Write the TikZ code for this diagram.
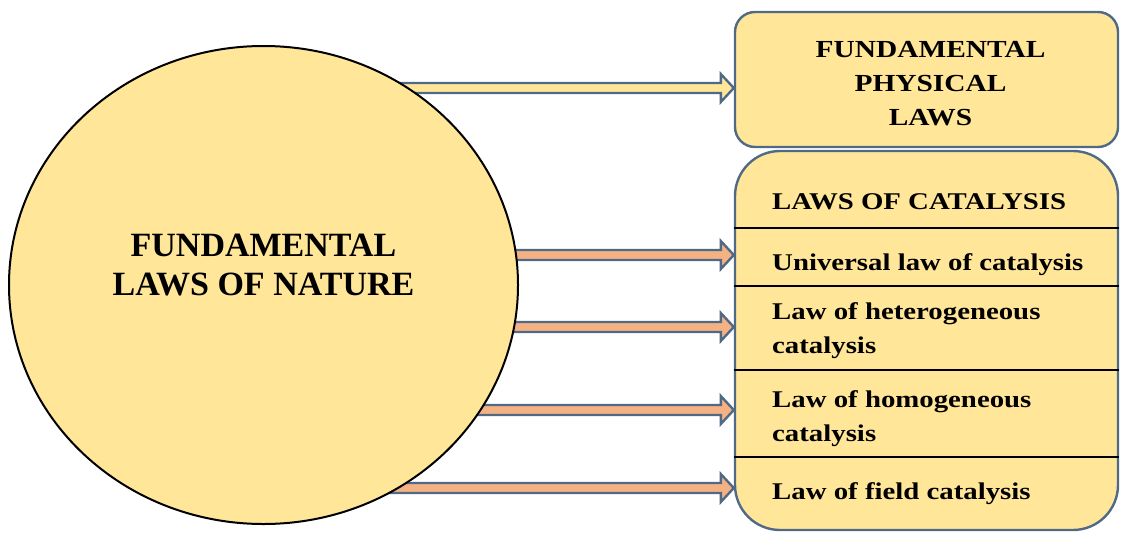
\documentclass[tikz,border=0pt]{standalone}
\usepackage{xcolor}
\usepackage{fontspec}
\setmainfont{Liberation Serif}
\newfontfamily\widefont[FakeStretch=1.2]{Liberation Serif}
\usetikzlibrary{shapes.geometric, calc, backgrounds}
\definecolor{goldfill}{RGB}{255,230,153}
\definecolor{steelline}{RGB}{80,106,134}
\definecolor{salmonfill}{RGB}{244,177,131}

% block arrow from #1 to the tip #2, filled with #3
\newcommand{\blockarrow}[3]{%
  \path[fill=#3, draw=steelline, line width=2.4pt, line join=miter]
    ($(#1)+(0,-5)$) -- ($(#2)+(-13,-5)$) -- ($(#2)+(-13,-14)$) -- (#2)
    -- ($(#2)+(-13,14)$) -- ($(#2)+(-13,5)$) -- ($(#1)+(0,5)$) -- cycle;}

\begin{document}
\begin{tikzpicture}[x=1pt, y=-1pt,
    lawbox/.style={draw=steelline, line width=2.4pt, fill=goldfill, rectangle},
    entry/.style={inner sep=0pt, align=left, font=\widefont\bfseries\fontsize{24}{34}\selectfont},
    divider/.style={draw=black, line width=2.2pt}]
    \useasboundingbox (0,0) rectangle (1121,533);

    % left: the big ellipse
    \node[draw=black, line width=2pt, fill=goldfill, ellipse, inner sep=0pt,
          minimum width=509pt, minimum height=478pt] (nature) at (263.5,285) {};
    \node[align=center, inner sep=0pt, font=\bfseries\fontsize{34}{39}\selectfont]
        (naturetxt) at ([yshift=20pt]nature.center) {FUNDAMENTAL\\LAWS OF NATURE};

    % right: the two boxes
    \node[lawbox, rounded corners=20pt, minimum width=383pt, minimum height=135pt]
        (physbox) at (926.5,79.5) {};
    \node[align=center, inner sep=0pt, font=\widefont\bfseries\fontsize{24.5}{34}\selectfont]
        (phystxt) at ([xshift=4pt,yshift=-4pt]physbox.center) {FUNDAMENTAL\\PHYSICAL\\LAWS};
    \node[lawbox, rounded corners=45pt, minimum width=383pt, minimum height=379pt]
        (catbox) at (926.5,340.5) {};

    \foreach \y in {228,286,370,457}
        \draw[divider] (catbox.west |- 0,\y) -- (catbox.east |- 0,\y);

    \node[entry, anchor=base west] (cathead) at (772,209) {LAWS OF CATALYSIS};
    \node[entry, anchor=base west] (universal) at (772,270) {Universal law of catalysis};
    \node[entry, anchor=west] (hetero) at (772,331) {Law of heterogeneous\\catalysis};
    \node[entry, anchor=west] (homo) at (772,418.5) {Law of homogeneous\\catalysis};
    \node[entry, anchor=base west] (field) at (772,499) {Law of field catalysis};

    % arrows
    \coordinate (tipphys) at (physbox.west |- 0,88);
    \coordinate (tipuni) at (catbox.west |- 0,255);
    \coordinate (tiphet) at (catbox.west |- 0,327);
    \coordinate (tiphom) at (catbox.west |- 0,410);
    \coordinate (tipfld) at (catbox.west |- 0,488);
    \begin{scope}[on background layer]
        \blockarrow{nature.center |- tipphys}{tipphys}{goldfill}
        \blockarrow{nature.center |- tipuni}{tipuni}{salmonfill}
        \blockarrow{nature.center |- tiphet}{tiphet}{salmonfill}
        \blockarrow{nature.center |- tiphom}{tiphom}{salmonfill}
        \blockarrow{nature.center |- tipfld}{tipfld}{salmonfill}
    \end{scope}
\end{tikzpicture}
\end{document}
